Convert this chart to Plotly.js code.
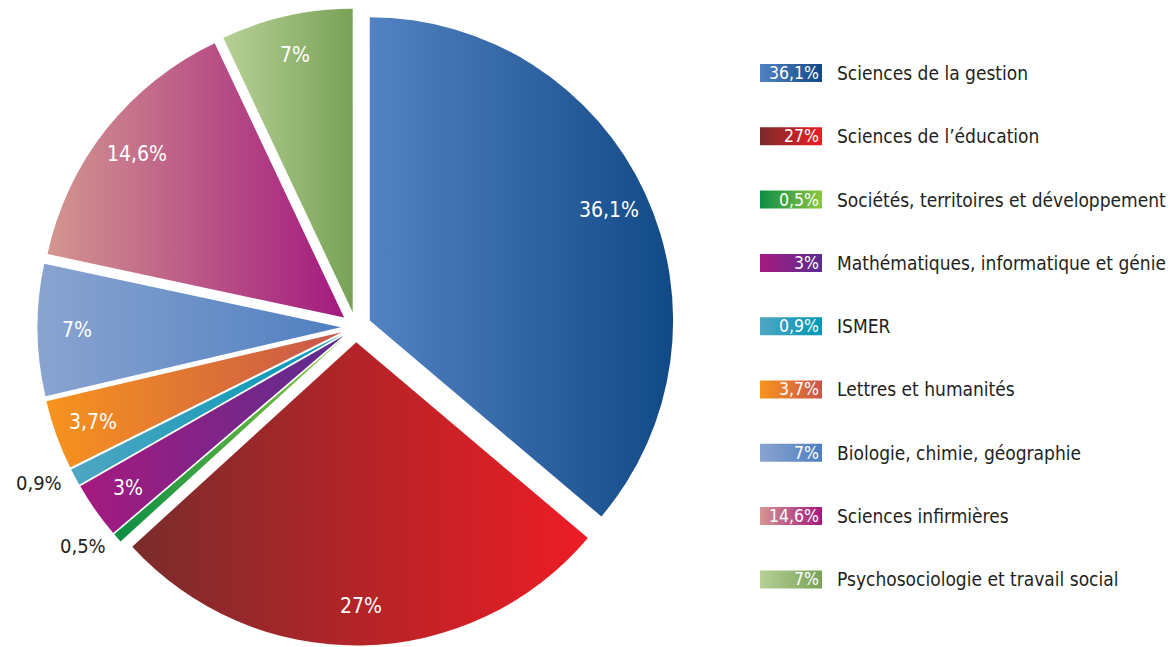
<!DOCTYPE html>
<html>
<head>
<meta charset="utf-8">
<script src="https://cdn.plot.ly/plotly-3.0.1.min.js"></script>
<style>
html,body{margin:0;padding:0;background:#fff;overflow:hidden;}
#chart{width:1173px;height:647px;}
</style>
</head>
<body>
<div id="chart"></div>
<script>
// ---- data ----
const categories = [
  "Sciences de la gestion",
  "Sciences de l’éducation",
  "Sociétés, territoires et développement",
  "Mathématiques, informatique et génie",
  "ISMER",
  "Lettres et humanités",
  "Biologie, chimie, géographie",
  "Sciences infirmières",
  "Psychosociologie et travail social"
];
const values = [36.1, 27, 0.5, 3, 0.9, 3.7, 7, 14.6, 7];
const valueLabels = ["36,1%", "27%", "0,5%", "3%", "0,9%", "3,7%", "7%", "14,6%", "7%"];

// ---- styles ----
const gradLeft  = ["#5282C2", "#7A2C2B", "#0C8E45", "#A61A80", "#4FA6C2", "#F7941D", "#8AA4D0", "#D3968F", "#B7D096"];
const gradRight = ["#114987", "#EE1C25", "#8DC63F", "#5C2D8F", "#0097B7", "#C8564B", "#4F7FC0", "#A31A7F", "#79A257"];
const midColors = ["#30649F", "#B8252A", "#4DAA42", "#812488", "#27A0BD", "#E07534", "#6D92C8", "#BB5887", "#98B977"];
const labelInside = [true, true, false, true, false, true, true, true, true];
const FONT = "'DejaVu Sans Condensed', 'Liberation Sans Narrow', sans-serif";
const PULL = 0.05;

const W = 1173, H = 647;
const shapes = [], annotations = [];
const rowTop = 64, rowStep = 63.3, boxH = 18;
categories.forEach((c, i) => {
  const y0 = rowTop + i * rowStep;
  shapes.push({type: "rect", xref: "paper", yref: "paper",
    x0: 760 / W, x1: 822 / W, y0: 1 - (y0 + boxH) / H, y1: 1 - y0 / H,
    line: {width: 0}, fillcolor: midColors[i]});
  annotations.push({xref: "paper", yref: "paper", x: 821 / W, y: 1 - (y0 + boxH / 2) / H,
    xanchor: "right", yanchor: "middle", showarrow: false, text: valueLabels[i],
    font: {family: FONT, size: 17.5, color: "#ffffff"}});
  annotations.push({xref: "paper", yref: "paper", x: 835 / W, y: 1 - (y0 + boxH / 2) / H,
    xanchor: "left", yanchor: "middle", showarrow: false, text: c,
    font: {family: FONT, size: 19, color: "#231F20"}});
});

const trace = {
  type: "pie",
  values: values,
  labels: categories,
  textinfo: "none",
  sort: false,
  direction: "clockwise",
  rotation: 0,
  pull: values.map(() => PULL),
  marker: {colors: midColors, line: {width: 0}},
  domain: {x: [0, 712 / W], y: [1.5 / H, 638.5 / H]},
  hoverinfo: "none"
};

const layout = {
  width: W, height: H,
  margin: {l: 0, r: 0, t: 0, b: 0},
  showlegend: false,
  paper_bgcolor: "#ffffff",
  shapes: shapes,
  annotations: annotations,
  font: {family: FONT}
};

function applyGradients(gd) {
  const NS = "http://www.w3.org/2000/svg";
  const svg = gd.querySelector("svg.main-svg");
  let defs = svg.querySelector("defs");
  if (!defs) { defs = document.createElementNS(NS, "defs"); svg.insertBefore(defs, svg.firstChild); }
  if (!document.getElementById("grad0")) {
    gradLeft.forEach((c, i) => {
      const g = document.createElementNS(NS, "linearGradient");
      g.setAttribute("id", "grad" + i);
      g.setAttribute("x1", "0"); g.setAttribute("y1", "0");
      g.setAttribute("x2", "1"); g.setAttribute("y2", "0");
      const s1 = document.createElementNS(NS, "stop");
      s1.setAttribute("offset", "0"); s1.setAttribute("stop-color", c);
      const s2 = document.createElementNS(NS, "stop");
      s2.setAttribute("offset", "1"); s2.setAttribute("stop-color", gradRight[i]);
      g.appendChild(s1); g.appendChild(s2); defs.appendChild(g);
    });
  }
  gd.querySelectorAll(".pielayer .slice path.surface").forEach((p, i) => {
    p.style.fill = "url(#grad" + i + ")";
  });
  gd.querySelectorAll(".shapelayer path").forEach((p, i) => {
    if (i < gradLeft.length) p.style.fill = "url(#grad" + i + ")";
  });
}

Plotly.newPlot("chart", [trace], layout, {staticPlot: true}).then(gd => {
  applyGradients(gd);
  const cd0 = gd.calcdata[0][0];
  const r = cd0.r, cx = cd0.cx, cy = cd0.cy;
  const total = values.reduce((a, b) => a + b, 0);
  let cum = 0;
  const extra = [];
  values.forEach((v, i) => {
    const a = 2 * Math.PI * (cum + v / 2) / total;
    cum += v;
    const ux = Math.sin(a), uy = -Math.cos(a);
    const ox = cx + ux * PULL * r, oy = cy + uy * PULL * r;
    if (labelInside[i]) {
      const f = 0.87;
      extra.push({xref: "paper", yref: "paper", x: (ox + ux * f * r) / W, y: 1 - (oy + uy * f * r) / H,
        xanchor: "center", yanchor: "middle", showarrow: false, text: valueLabels[i],
        font: {family: FONT, size: 21, color: "#ffffff"}});
    } else {
      const f = 1.04;
      extra.push({xref: "paper", yref: "paper", x: (ox + ux * f * r) / W, y: 1 - (oy + uy * f * r) / H,
        xanchor: "right", yanchor: "middle", showarrow: false, text: valueLabels[i],
        font: {family: FONT, size: 20, color: "#231F20"}});
    }
  });
  return Plotly.relayout(gd, {annotations: annotations.concat(extra)}).then(() => applyGradients(gd));
});
</script>
</body>
</html>
